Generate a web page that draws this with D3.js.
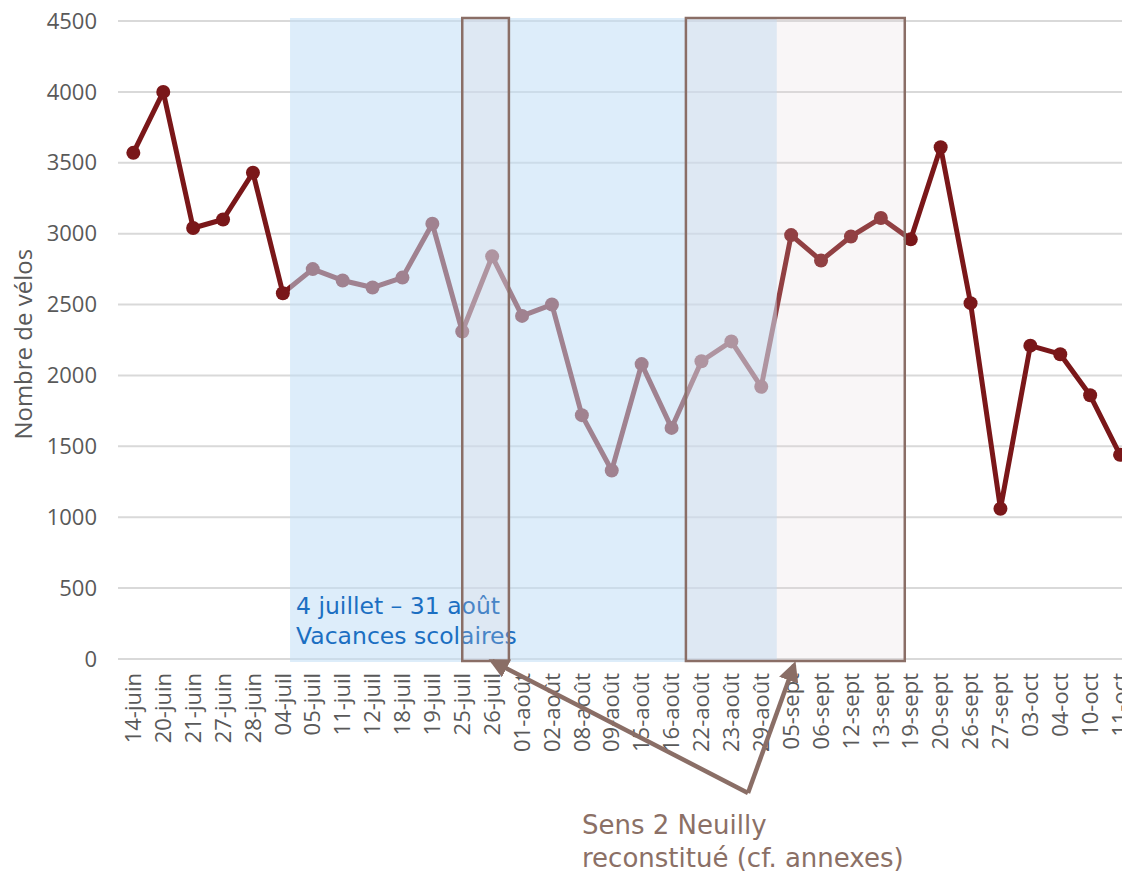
<!doctype html>
<html>
<head>
  <meta charset="utf-8">
  <title>Nombre de vélos</title>
  <script src="https://d3js.org/d3.v7.min.js"></script>
  <style>
    body { margin: 0; background: #fff; }
  </style>
</head>
<body>
  <div id="chart"></div>
  <script>
    // data
    var dates = ["14-juin", "20-juin", "21-juin", "27-juin", "28-juin",
      "04-juil", "05-juil", "11-juil", "12-juil", "18-juil", "19-juil", "25-juil", "26-juil",
      "01-août", "02-août", "08-août", "09-août", "15-août", "16-août", "22-août", "23-août", "29-août",
      "05-sept", "06-sept", "12-sept", "13-sept", "19-sept", "20-sept", "26-sept", "27-sept",
      "03-oct", "04-oct", "10-oct", "11-oct"];
    var velos = [3570, 4000, 3040, 3100, 3430,
      2580, 2750, 2670, 2620, 2690, 3070, 2310, 2840,
      2420, 2500, 1720, 1330, 2080, 1630, 2100, 2240, 1920,
      2990, 2810, 2980, 3110, 2960, 3610, 2510, 1060,
      2210, 2150, 1860, 1440];
    var yTicks = [0, 500, 1000, 1500, 2000, 2500, 3000, 3500, 4000, 4500];

    // periods, as fractional category index
    var vacances = [5.24, 21.52];
    var reconstitue = [[11.0, 12.56], [18.48, 25.8]];
    var vacancesLabel = ["4 juillet \u2013 31 août", "Vacances scolaires"];
    var noteLabel = ["Sens 2 Neuilly", "reconstitué (cf. annexes)"];

    var W = 1122, H = 873;
    var svg = d3.select("#chart").append("svg")
      .attr("width", W).attr("height", H)
      .style("font-family", "'Open Sans', sans-serif");

    var x = d3.scaleBand().domain(dates).range([118.4, 1135]).paddingInner(0).paddingOuter(0);
    var y = d3.scaleLinear().domain([0, 4500]).range([659, 21]);
    function pos(f) { return x.range()[0] + (f + 0.5) * x.step(); }
    function cx(d) { return x(d) + x.bandwidth() / 2; }

    // gridlines
    svg.append("g").selectAll("line").data(yTicks).join("line")
      .attr("x1", 118).attr("x2", W)
      .attr("y1", function (d) { return y(d); }).attr("y2", function (d) { return y(d); })
      .attr("stroke", "#d9d9d9").attr("stroke-width", 2);

    // y tick labels
    svg.append("g").selectAll("text").data(yTicks).join("text")
      .attr("x", 97).attr("y", function (d) { return y(d); })
      .attr("dy", "0.35em")
      .attr("text-anchor", "end")
      .attr("fill", "#595959").style("font-size", "22px")
      .text(function (d) { return d; });

    // y title
    svg.append("text")
      .attr("transform", "translate(32," + y(2220) + ") rotate(-90)")
      .attr("text-anchor", "middle")
      .attr("fill", "#595959").style("font-size", "24px")
      .text("Nombre de vélos");

    // x labels
    svg.append("g").selectAll("text").data(dates).join("text")
      .attr("transform", function (d) { return "translate(" + cx(d) + ",673) rotate(-90)"; })
      .attr("dy", "0.35em")
      .attr("text-anchor", "end")
      .attr("fill", "#595959").style("font-size", "22px")
      .text(function (d) { return d; });

    // line + dots
    var pts = dates.map(function (d, i) { return [cx(d), y(velos[i])]; });
    svg.append("path")
      .attr("d", d3.line()(pts))
      .attr("fill", "none").attr("stroke", "#7a1719")
      .attr("stroke-width", 5).attr("stroke-linejoin", "round");
    svg.append("g").selectAll("circle").data(pts).join("circle")
      .attr("cx", function (d) { return d[0]; }).attr("cy", function (d) { return d[1]; })
      .attr("r", 7).attr("fill", "#7a1719");

    // school holidays overlay
    svg.append("rect")
      .attr("x", pos(vacances[0])).attr("y", 18)
      .attr("width", pos(vacances[1]) - pos(vacances[0])).attr("height", 644)
      .attr("fill", "#c1def6").attr("fill-opacity", 0.54);

    svg.append("g").selectAll("text").data(vacancesLabel).join("text")
      .attr("x", pos(vacances[0]) + 6)
      .attr("y", function (d, i) { return 614 + i * 30; })
      .attr("fill", "#1b6fc2").style("font-size", "23.5px")
      .style("font-family", "'DejaVu Sans', sans-serif")
      .text(function (d) { return d; });

    // reconstructed period boxes
    svg.append("g").selectAll("rect").data(reconstitue).join("rect")
      .attr("x", function (d) { return pos(d[0]); }).attr("y", 18)
      .attr("width", function (d) { return pos(d[1]) - pos(d[0]); }).attr("height", 643)
      .attr("fill", "#e4d6da").attr("fill-opacity", 0.22)
      .attr("stroke", "#8a6e66").attr("stroke-width", 2.5);

    // arrows
    svg.append("defs").append("marker")
      .attr("id", "arrow").attr("viewBox", "0 0 10 10")
      .attr("refX", 8).attr("refY", 5)
      .attr("markerWidth", 4.5).attr("markerHeight", 4.5)
      .attr("orient", "auto")
      .append("path").attr("d", "M0,0 L10,5 L0,10 z").attr("fill", "#8a6e66");

    var from = [748, 793];
    var tips = [[pos(12.0), 661], [pos(22.1), 665]];
    svg.append("g").selectAll("line").data(tips).join("line")
      .attr("x1", from[0]).attr("y1", from[1])
      .attr("x2", function (d) { return d[0]; }).attr("y2", function (d) { return d[1]; })
      .attr("stroke", "#8a6e66").attr("stroke-width", 4.5)
      .attr("marker-end", "url(#arrow)");

    svg.append("g").selectAll("text").data(noteLabel).join("text")
      .attr("x", 582)
      .attr("y", function (d, i) { return 834 + i * 33; })
      .attr("fill", "#8b7066").style("font-size", "26px")
      .style("font-family", "'DejaVu Sans', sans-serif")
      .text(function (d) { return d; });
  </script>
</body>
</html>
